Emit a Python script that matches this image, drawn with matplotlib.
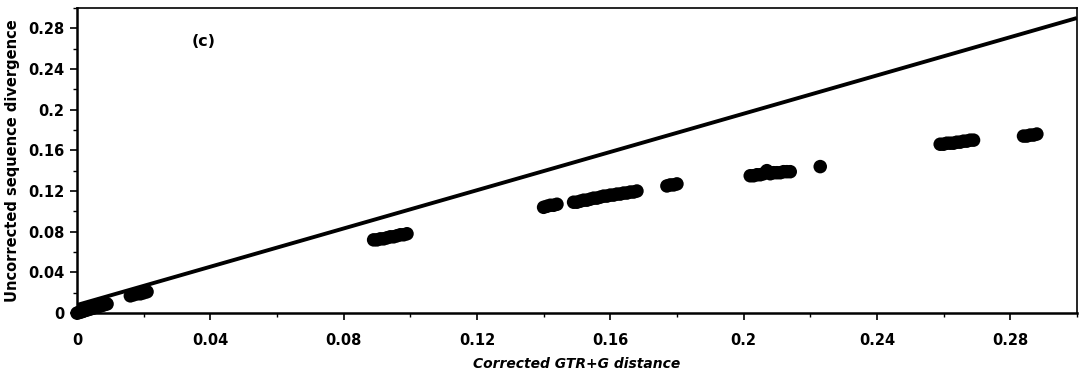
import numpy as np
import matplotlib
matplotlib.use('Agg')
import matplotlib.pyplot as plt
from matplotlib.ticker import MultipleLocator, FuncFormatter

# corrected GTR+G distance vs uncorrected divergence
gtr_x = [0.0, 0.0005, 0.001, 0.0015, 0.002, 0.0025, 0.003, 0.003, 0.0035, 0.004,
         0.0045, 0.005, 0.005, 0.0055, 0.006, 0.0065, 0.007, 0.007, 0.0075,
         0.008, 0.0085, 0.009,
         0.016, 0.017, 0.018, 0.019, 0.020, 0.021,
         0.089, 0.090, 0.091, 0.092, 0.093, 0.094, 0.095, 0.096, 0.097, 0.098,
         0.099,
         0.140, 0.141, 0.142, 0.143, 0.144,
         0.149, 0.150, 0.151, 0.152, 0.153, 0.154, 0.155, 0.156, 0.157, 0.158,
         0.159, 0.160, 0.161, 0.162, 0.163, 0.164, 0.165, 0.166, 0.167, 0.168,
         0.177, 0.178, 0.179, 0.180,
         0.202, 0.203, 0.204, 0.205, 0.206, 0.207, 0.208, 0.209, 0.210, 0.211,
         0.212, 0.213, 0.214,
         0.223,
         0.259, 0.260, 0.261, 0.262, 0.263, 0.264, 0.265, 0.266, 0.267, 0.268,
         0.269,
         0.284, 0.285, 0.286, 0.287, 0.288]
uncorr_y = [0.0, 0.0005, 0.001, 0.0015, 0.002, 0.003, 0.003, 0.005, 0.004, 0.004,
            0.005, 0.005, 0.007, 0.006, 0.006, 0.007, 0.007, 0.009, 0.008,
            0.008, 0.009, 0.009,
            0.017, 0.018, 0.019, 0.019, 0.020, 0.021,
            0.072, 0.072, 0.073, 0.073, 0.074, 0.075, 0.075, 0.076, 0.077, 0.077,
            0.078,
            0.104, 0.105, 0.106, 0.106, 0.107,
            0.109, 0.109, 0.110, 0.111, 0.111, 0.112, 0.113, 0.113, 0.114, 0.115,
            0.115, 0.116, 0.116, 0.117, 0.117, 0.118, 0.118, 0.119, 0.119, 0.120,
            0.125, 0.126, 0.126, 0.127,
            0.135, 0.135, 0.136, 0.136, 0.137, 0.140, 0.137, 0.138, 0.138, 0.138,
            0.139, 0.139, 0.139,
            0.144,
            0.166, 0.166, 0.167, 0.167, 0.167, 0.168, 0.168, 0.169, 0.169, 0.170,
            0.170,
            0.174, 0.174, 0.175, 0.175, 0.176]

# reference line endpoints
line_x = [0.0, 0.30]
line_y = [0.008, 0.290]

x_ticks = [0, 0.04, 0.08, 0.12, 0.16, 0.2, 0.24, 0.28]
y_ticks = [0, 0.04, 0.08, 0.12, 0.16, 0.2, 0.24, 0.28]


def fmt(v, pos):
    if abs(v) < 1e-9:
        return '0'
    return ('%.2f' % v).rstrip('0')


def main():
    fig = plt.figure(figsize=(10.79, 3.75), dpi=100)
    ax = fig.add_axes([0.0714, 0.165, 0.9266, 0.814])

    ax.plot(line_x, line_y, color='black', lw=2.8, solid_capstyle='butt', zorder=2)
    ax.scatter(gtr_x, uncorr_y, s=95, color='black', edgecolors='none', zorder=3,
               clip_on=False)

    ax.set_xlim(0, 0.30)
    ax.set_ylim(0, 0.30)
    ax.set_xticks(x_ticks)
    ax.set_yticks(y_ticks)
    ax.xaxis.set_minor_locator(MultipleLocator(0.02))
    ax.yaxis.set_minor_locator(MultipleLocator(0.02))
    ax.xaxis.set_major_formatter(FuncFormatter(fmt))
    ax.yaxis.set_major_formatter(FuncFormatter(fmt))

    ax.tick_params(which='major', direction='out', length=5, width=1.2,
                   labelsize=10.5, pad=4)
    ax.tick_params(which='minor', direction='out', length=3, width=1)
    for lab in ax.get_xticklabels() + ax.get_yticklabels():
        lab.set_fontweight('bold')
    ax.tick_params(axis='x', pad=9)

    for side in ['left', 'bottom']:
        ax.spines[side].set_linewidth(1.8)
    for side in ['top', 'right']:
        ax.spines[side].set_linewidth(1.2)

    ax.set_xlabel('Corrected GTR+G distance', fontsize=10, fontweight='bold',
                  fontstyle='italic', labelpad=7)
    ax.set_ylabel('Uncorrected sequence divergence', fontsize=10.5,
                  fontweight='bold', labelpad=6)
    ax.text(0.038, 0.267, '(c)', fontsize=11.5, fontweight='bold',
            ha='center', va='center')

    fig.savefig('out.png', dpi=100)


if __name__ == '__main__':
    main()
